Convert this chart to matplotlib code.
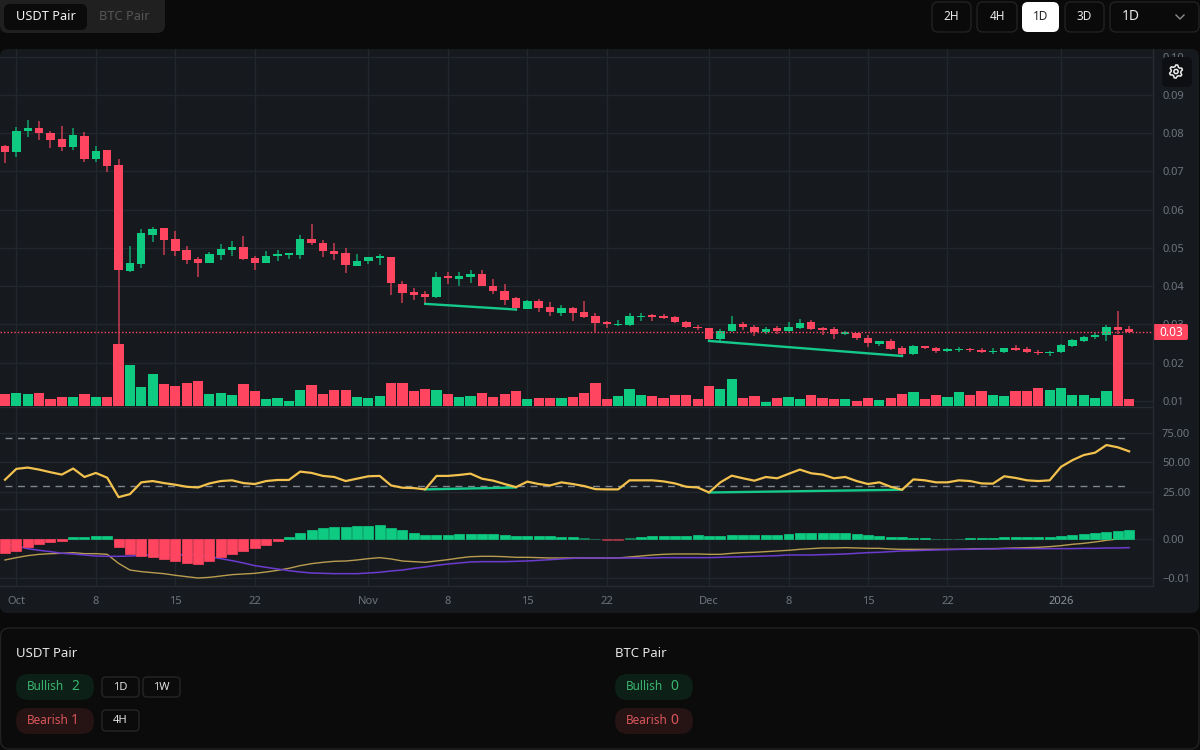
import numpy as np
import pandas as pd
import matplotlib
matplotlib.use("Agg")
import matplotlib.pyplot as plt
from matplotlib.patches import FancyBboxPatch, Circle, Polygon

plt.rcParams['font.family'] = ['Noto Sans', 'DejaVu Sans']

# Daily candles, 30 Sep 2025 to 7 Jan 2026
opens = [0.07671, 0.07516, 0.08052, 0.08138, 0.08017, 0.07844, 0.07628, 0.07939, 0.07317, 0.07559,
         0.07170, 0.04410, 0.04592, 0.05344, 0.05509, 0.05241, 0.04938, 0.04704, 0.04618, 0.04825,
         0.04955, 0.05016, 0.04730, 0.04618, 0.04782, 0.04825, 0.04825, 0.05241, 0.05137, 0.04921,
         0.04869, 0.04540, 0.04661, 0.04730, 0.04774, 0.04060, 0.03843, 0.03800, 0.03721, 0.04261,
         0.04191, 0.04243, 0.04313, 0.04008, 0.03887, 0.03695, 0.03408, 0.03626, 0.03451, 0.03312,
         0.03425, 0.03321, 0.03225, 0.03069, 0.02990, 0.02999, 0.03208, 0.03251, 0.03225, 0.03199,
         0.03077, 0.02929, 0.02903, 0.02625, 0.02834, 0.03008, 0.02929, 0.02799, 0.02903, 0.02834,
         0.02895, 0.03053, 0.02904, 0.02878, 0.02764, 0.02772, 0.02658, 0.02492, 0.02562, 0.02378,
         0.02220, 0.02430, 0.02387, 0.02316, 0.02325, 0.02369, 0.02334, 0.02281, 0.02273, 0.02387,
         0.02369, 0.02290, 0.02255, 0.02273, 0.02439, 0.02562, 0.02667, 0.02720, 0.02922, 0.02878]
closes = [0.07516, 0.08061, 0.08138, 0.08000, 0.07810, 0.07637, 0.07948, 0.07325, 0.07533, 0.07152,
          0.04419, 0.04609, 0.05379, 0.05483, 0.05197, 0.04929, 0.04687, 0.04618, 0.04843, 0.04964,
          0.05016, 0.04713, 0.04618, 0.04799, 0.04851, 0.04860, 0.05241, 0.05128, 0.04929, 0.04851,
          0.04566, 0.04652, 0.04756, 0.04782, 0.04073, 0.03826, 0.03782, 0.03730, 0.04235, 0.04208,
          0.04261, 0.04313, 0.04000, 0.03878, 0.03652, 0.03434, 0.03626, 0.03434, 0.03338, 0.03425,
          0.03312, 0.03208, 0.03051, 0.03025, 0.03008, 0.03225, 0.03234, 0.03208, 0.03164, 0.03069,
          0.02921, 0.02903, 0.02625, 0.02825, 0.03008, 0.02921, 0.02799, 0.02886, 0.02825, 0.02929,
          0.03036, 0.02886, 0.02860, 0.02746, 0.02799, 0.02641, 0.02509, 0.02562, 0.02352, 0.02220,
          0.02430, 0.02387, 0.02316, 0.02352, 0.02369, 0.02334, 0.02273, 0.02308, 0.02378, 0.02325,
          0.02273, 0.02246, 0.02290, 0.02457, 0.02588, 0.02685, 0.02737, 0.02930, 0.02860, 0.02816]
highs = [0.07697, 0.08156, 0.08346, 0.08311, 0.08061, 0.08190, 0.08138, 0.08026, 0.07654, 0.07559,
         0.07325, 0.05050, 0.05483, 0.05543, 0.05509, 0.05440, 0.05050, 0.04774, 0.04886, 0.05102,
         0.05171, 0.05310, 0.04799, 0.04912, 0.04947, 0.04877, 0.05336, 0.05613, 0.05215, 0.05128,
         0.04998, 0.04851, 0.04774, 0.04834, 0.04774, 0.04139, 0.03947, 0.03869, 0.04365, 0.04382,
         0.04365, 0.04417, 0.04435, 0.04191, 0.04060, 0.03713, 0.03643, 0.03669, 0.03582, 0.03504,
         0.03451, 0.03608, 0.03304, 0.03103, 0.03121, 0.03304, 0.03304, 0.03277, 0.03277, 0.03234,
         0.03103, 0.02990, 0.02912, 0.02886, 0.03217, 0.03069, 0.02990, 0.02938, 0.02964, 0.03069,
         0.03141, 0.03106, 0.02922, 0.02922, 0.02825, 0.02772, 0.02729, 0.02579, 0.02615, 0.02430,
         0.02457, 0.02439, 0.02413, 0.02387, 0.02413, 0.02387, 0.02378, 0.02387, 0.02387, 0.02457,
         0.02413, 0.02334, 0.02316, 0.02483, 0.02615, 0.02702, 0.02772, 0.02974, 0.03351, 0.02948]
lows = [0.07222, 0.07369, 0.07888, 0.07827, 0.07611, 0.07533, 0.07568, 0.07239, 0.07239, 0.06979,
        0.02464, 0.04384, 0.04488, 0.05163, 0.04825, 0.04799, 0.04583, 0.04246, 0.04618, 0.04678,
        0.04799, 0.04696, 0.04427, 0.04618, 0.04661, 0.04704, 0.04704, 0.05076, 0.04774, 0.04678,
        0.04341, 0.04540, 0.04583, 0.04557, 0.03761, 0.03573, 0.03634, 0.03539, 0.03704, 0.04060,
        0.03999, 0.04087, 0.04000, 0.03800, 0.03521, 0.03365, 0.03408, 0.03338, 0.03234, 0.03234,
        0.03086, 0.03164, 0.02799, 0.02912, 0.02956, 0.02964, 0.03095, 0.03095, 0.03147, 0.03051,
        0.02912, 0.02843, 0.02564, 0.02564, 0.02816, 0.02843, 0.02695, 0.02764, 0.02764, 0.02816,
        0.02878, 0.02860, 0.02720, 0.02632, 0.02720, 0.02597, 0.02413, 0.02430, 0.02334, 0.02150,
        0.02194, 0.02369, 0.02246, 0.02273, 0.02273, 0.02273, 0.02246, 0.02220, 0.02246, 0.02299,
        0.02246, 0.02211, 0.02167, 0.02246, 0.02413, 0.02536, 0.02632, 0.02571, 0.02746, 0.02790]
volumes = [36, 38, 36, 38, 20, 28, 28, 36, 28, 28, 186, 123, 56, 95, 65, 59, 70, 76, 37, 39,
           33, 67, 45, 20, 25, 14, 48, 62, 37, 48, 48, 28, 23, 31, 70, 70, 45, 51, 48, 37,
           28, 31, 39, 28, 36, 45, 20, 25, 25, 23, 28, 39, 70, 22, 31, 51, 34, 31, 25, 34,
           34, 22, 59, 51, 80, 25, 31, 11, 25, 28, 22, 34, 25, 22, 22, 16, 25, 19, 25, 36,
           42, 22, 34, 28, 42, 34, 45, 34, 30, 45, 45, 53, 48, 53, 34, 34, 25, 45, 213, 22]
rsi = [35.4, 44.5, 45.6, 43.9, 41.7, 39.7, 44.8, 37.7, 41.1, 37.1, 20.8, 23.3, 33.2, 34.3, 32.6, 31.2, 29.5, 28.9, 32.3, 34.3,
       34.9, 32.6, 31.8, 34.3, 35.2, 35.2, 42.2, 41.1, 38.6, 37.7, 34.3, 36.3, 38.3, 38.6, 30.6, 28.7, 28.4, 27.3, 38.6, 38.6,
       39.4, 40.5, 36.3, 34.6, 31.8, 29.2, 33.8, 31.8, 30.6, 33.2, 31.8, 30.1, 27.5, 27.3, 27.3, 34.9, 34.9, 34.9, 34.0, 32.3,
       29.5, 28.9, 24.7, 33.2, 38.8, 36.6, 34.6, 37.7, 36.6, 40.3, 43.9, 40.8, 39.7, 36.6, 37.7, 34.3, 31.8, 33.2, 29.5, 27.0,
       35.7, 34.9, 33.2, 33.2, 34.9, 34.3, 32.3, 32.1, 38.3, 36.9, 34.9, 34.3, 34.9, 46.2, 51.8, 56.1, 58.1, 64.5, 62.6, 59.2]
macd_hist = [-0.00359, -0.00291, -0.00205, -0.00128, -0.00077, -0.00034, 0.00051, 0.00051, 0.00077, 0.00077,
             -0.00197, -0.00368, -0.00428, -0.00453, -0.00513, -0.00556, -0.00607, -0.00633, -0.00564, -0.00462,
             -0.00368, -0.00291, -0.00222, -0.00145, -0.00051, 0.00068, 0.00162, 0.00239, 0.00291, 0.00316,
             0.00316, 0.00342, 0.00342, 0.00368, 0.00291, 0.00239, 0.00162, 0.00120, 0.00120, 0.00120,
             0.00145, 0.00145, 0.00145, 0.00145, 0.00120, 0.00094, 0.00094, 0.00094, 0.00077, 0.00051,
             0.00051, 0.00026, 0.00009, -0.00017, -0.00017, 0.00026, 0.00051, 0.00077, 0.00094, 0.00094,
             0.00094, 0.00120, 0.00094, 0.00094, 0.00120, 0.00120, 0.00120, 0.00120, 0.00120, 0.00145,
             0.00162, 0.00162, 0.00162, 0.00162, 0.00162, 0.00137, 0.00111, 0.00094, 0.00068, 0.00051,
             0.00034, 0.00034, 0.00017, 0.00017, 0.00017, 0.00034, 0.00034, 0.00034, 0.00051, 0.00051,
             0.00068, 0.00068, 0.00068, 0.00094, 0.00111, 0.00137, 0.00162, 0.00188, 0.00214, 0.00239]
macd_line = [-0.00530, -0.00470, -0.00419, -0.00385, -0.00368, -0.00359, -0.00342, -0.00368, -0.00368, -0.00385,
             -0.00616, -0.00787, -0.00829, -0.00855, -0.00881, -0.00923, -0.00958, -0.00992, -0.00975, -0.00941,
             -0.00906, -0.00889, -0.00872, -0.00838, -0.00795, -0.00744, -0.00675, -0.00624, -0.00590, -0.00564,
             -0.00556, -0.00530, -0.00496, -0.00470, -0.00504, -0.00556, -0.00573, -0.00590, -0.00556, -0.00522,
             -0.00479, -0.00445, -0.00436, -0.00436, -0.00445, -0.00462, -0.00462, -0.00470, -0.00479, -0.00479,
             -0.00479, -0.00479, -0.00479, -0.00479, -0.00479, -0.00453, -0.00428, -0.00402, -0.00385, -0.00376,
             -0.00376, -0.00376, -0.00385, -0.00385, -0.00359, -0.00342, -0.00333, -0.00316, -0.00299, -0.00282,
             -0.00257, -0.00239, -0.00222, -0.00222, -0.00214, -0.00222, -0.00231, -0.00231, -0.00248, -0.00257,
             -0.00257, -0.00257, -0.00257, -0.00257, -0.00257, -0.00248, -0.00239, -0.00239, -0.00231, -0.00222,
             -0.00214, -0.00205, -0.00188, -0.00162, -0.00128, -0.00103, -0.00068, -0.00026, 0.00009, 0.00026]
macd_signal = [-0.00120, -0.00171, -0.00239, -0.00282, -0.00316, -0.00359, -0.00376, -0.00402, -0.00428, -0.00436,
               -0.00436, -0.00428, -0.00410, -0.00402, -0.00402, -0.00402, -0.00393, -0.00393, -0.00445, -0.00496,
               -0.00547, -0.00607, -0.00675, -0.00718, -0.00761, -0.00804, -0.00838, -0.00864, -0.00872, -0.00881,
               -0.00881, -0.00881, -0.00864, -0.00846, -0.00812, -0.00787, -0.00744, -0.00710, -0.00667, -0.00633,
               -0.00607, -0.00581, -0.00573, -0.00573, -0.00573, -0.00564, -0.00556, -0.00539, -0.00522, -0.00504,
               -0.00487, -0.00479, -0.00479, -0.00479, -0.00479, -0.00479, -0.00479, -0.00479, -0.00470, -0.00470,
               -0.00470, -0.00470, -0.00470, -0.00462, -0.00453, -0.00445, -0.00436, -0.00428, -0.00419, -0.00402,
               -0.00402, -0.00402, -0.00393, -0.00385, -0.00376, -0.00359, -0.00342, -0.00333, -0.00316, -0.00299,
               -0.00291, -0.00282, -0.00274, -0.00265, -0.00257, -0.00257, -0.00248, -0.00248, -0.00239, -0.00239,
               -0.00239, -0.00239, -0.00239, -0.00239, -0.00239, -0.00231, -0.00231, -0.00222, -0.00222, -0.00214]

price_ticks = [0.01, 0.02, 0.03, 0.04, 0.05, 0.06, 0.07, 0.08, 0.09, 0.10]
rsi_ticks = [25, 50, 75]
macd_ticks = [-0.01, 0.0]
date_ticks = ["2025-10-01", "2025-10-08", "2025-10-15", "2025-10-22", "2025-11-01", "2025-11-08", "2025-11-15",
              "2025-11-22", "2025-12-01", "2025-12-08", "2025-12-15", "2025-12-22", "2026-01-01"]
date_labels = ["Oct", "8", "15", "22", "Nov", "8", "15", "22", "Dec", "8", "15", "22", "2026"]

# (start candle, start value, end candle, end value)
price_divergences = [(37, 0.03539, 45, 0.03391), (62, 0.02570, 79, 0.02176)]
rsi_divergences = [(37, 27.3, 45, 28.9), (62, 24.7, 79, 27.0)]

UP = "#0ecb81"
DOWN = "#ff4560"
GRID = "#22262d"
LABEL = "#6e747d"
W, H = 1200, 750
CHART_R = 1153


def pane(y_top, y_bottom, right=CHART_R):
    # axes placed by pixel rows of the 1200x750 figure
    ax = fig.add_axes([0, 1 - y_bottom / H, right / W, (y_bottom - y_top) / H])
    ax.patch.set_alpha(0)
    for s in ax.spines.values():
        s.set_visible(False)
    ax.set_xlim(-0.44, 101.1)
    ax.yaxis.tick_right()
    ax.tick_params(axis="y", length=0, pad=6.5, labelsize=8, labelcolor=LABEL)
    ax.tick_params(axis="x", length=0)
    ax.set_xticks(tick_pos)
    ax.set_xticklabels([])
    ax.grid(True, color=GRID, lw=1)
    ax.set_axisbelow(True)
    return ax


def box(ax, x0, y0, x1, y1, fc, ec="none", r=6, lw=1):
    ax.add_patch(FancyBboxPatch((x0 + r, y0 + r), x1 - x0 - 2 * r, y1 - y0 - 2 * r,
                                boxstyle=f"round,pad={r},rounding_size={r}", fc=fc, ec=ec, lw=lw))


dates = pd.date_range("2025-09-30", periods=len(opens))
x = np.arange(len(opens))
tick_pos = [dates.get_loc(pd.Timestamp(d)) for d in date_ticks]
opens, closes, highs, lows = map(np.array, (opens, closes, highs, lows))
up = closes >= opens
candle_colors = np.where(up, UP, DOWN)

fig = plt.figure(figsize=(12, 7.5), dpi=100, facecolor="#0a0a0a")

# page furniture, in pixel coordinates
ui = fig.add_axes([0, 0, 1, 1], zorder=0)
ui.set_xlim(0, W)
ui.set_ylim(H, 0)
ui.axis("off")
box(ui, 0, 49, 1199, 613, "#161a1f", r=8)
box(ui, 0, -12, 165, 33, "#202020", r=8)
box(ui, 4, 4, 87, 30, "#0b0b0b", r=6)
ui.text(46, 17, "USDT Pair", color="#f2f2f2", fontsize=9.2, ha="center", va="center")
ui.text(124.5, 17, "BTC Pair", color="#565656", fontsize=9.2, ha="center", va="center")
for (x0, x1, label) in [(932, 971, "2H"), (977, 1017, "4H"), (1065, 1104, "3D")]:
    box(ui, x0, 2, x1, 32, "#0a0a0a", "#222222", r=6)
    ui.text((x0 + x1) / 2, 16.5, label, color="#e8e8e8", fontsize=8.5, ha="center", va="center")
box(ui, 1022, 2, 1059, 32, "#ffffff", r=6)
ui.text(1040.5, 16.5, "1D", color="#222222", fontsize=8.5, ha="center", va="center")
box(ui, 1110, 2, 1199, 32, "#0a0a0a", "#222222", r=6)
ui.text(1122, 17, "1D", color="#e8e8e8", fontsize=10, ha="left", va="center")
ui.plot([1176, 1180, 1184], [15, 19, 15], color="#8a8a8a", lw=1)

box(ui, 0.5, 628, 1199, 749, "#0b0b0b", "#222222", r=9)
for x0, title, bull, bear in [(16, "USDT Pair", "2", "1"), (615, "BTC Pair", "0", "0")]:
    ui.text(x0, 653.5, title, color="#e6e6e6", fontsize=9.5, ha="left", va="center")
    box(ui, x0, 674, x0 + 78, 700, "#0c2017", r=13)
    box(ui, x0, 708, x0 + 78, 734, "#261414", r=13)
    ui.text(x0 + 11, 687, "Bullish", color="#3ab56f", fontsize=8.5, ha="left", va="center")
    ui.text(x0 + 55, 687, bull, color="#3ab56f", fontsize=10, ha="left", va="center")
    ui.text(x0 + 11, 721, "Bearish", color="#d9565a", fontsize=8.5, ha="left", va="center")
    ui.text(x0 + 55, 721, bear, color="#d9565a", fontsize=10, ha="left", va="center")
for x0, x1, y0, y1, label in [(102, 139, 677, 697, "1D"), (143, 180, 677, 697, "1W"), (102, 139, 710, 731, "4H")]:
    box(ui, x0, y0, x1, y1, "#0b0b0b", "#252525", r=4)
    ui.text((x0 + x1) / 2, (y0 + y1) / 2, label, color="#e0e0e0", fontsize=8, ha="center", va="center")

# price pane
ax_price = pane(49, 407)
ax_price.set_ylim(0.00843, 0.1020)
ax_price.set_yticks(price_ticks)
ax_price.set_yticklabels([f"{t:.2f}" for t in price_ticks])
ax_price.vlines(x, lows, highs, colors=candle_colors, lw=1.3, alpha=0.65, zorder=2)
ax_price.bar(x, np.maximum(np.abs(closes - opens), 0.00008), bottom=np.minimum(opens, closes),
             width=0.74, color=candle_colors, zorder=3)
for x0, v0, x1, v1 in price_divergences:
    ax_price.plot([x0, x1], [v0, v1], color="#14c98a", lw=1.7, zorder=4)
ax_price.axhline(closes[-1], color=DOWN, lw=1, ls=(0, (1, 1.5)), zorder=4)

# volume sits on the bottom of the price pane
ax_vol = fig.add_axes(ax_price.get_position(), zorder=1)
ax_vol.patch.set_alpha(0)
ax_vol.axis("off")
ax_vol.set_xlim(ax_price.get_xlim())
ax_vol.set_ylim(-3, 1071)
ax_vol.bar(x, volumes, width=0.9, color=candle_colors)

# RSI pane
ax_rsi = pane(407, 509)
ax_rsi.set_ylim(10.85, 96.4)
ax_rsi.set_yticks(rsi_ticks)
ax_rsi.set_yticklabels([f"{t:.2f}" for t in rsi_ticks])
for level in (70, 30):
    ax_rsi.plot([x[0], x[-1]], [level, level], color="#7f858d", lw=1, ls=(0, (5, 4)), zorder=2)
for x0, v0, x1, v1 in rsi_divergences:
    ax_rsi.plot([x0, x1], [v0, v1], color="#14c98a", lw=1.7, zorder=3)
ax_rsi.plot(x, rsi, color="#f2c14e", lw=1.6, zorder=4)

# MACD pane
ax_macd = pane(509, 586)
ax_macd.set_ylim(-0.01197, 0.00777)
ax_macd.set_yticks(macd_ticks)
ax_macd.set_yticklabels(["\u22120.01", "0.00"])
ax_macd.plot(x, macd_line, color="#b89c50", lw=1, zorder=2)
ax_macd.plot(x, macd_signal, color="#6c3bd0", lw=1.1, zorder=2)
hist = np.array(macd_hist)
hist_colors = np.where(hist >= 0, UP, DOWN)
bars = ax_macd.bar(x, hist, width=0.88, color=hist_colors, edgecolor=hist_colors, lw=0.5, zorder=3)
for b, v in zip(bars, hist):
    if abs(v) < 0.00030:
        b.set_alpha(0.55)
ax_macd.set_xticklabels(date_labels, fontsize=8, color=LABEL)
ax_macd.tick_params(axis="x", pad=7)
ax_macd.get_xticklabels()[-1].set_fontweight("bold")
ax_macd.get_xticklabels()[-1].set_color("#8d929a")

# pane separators and the overlay widgets
top = fig.add_axes([0, 0, 1, 1], zorder=5)
top.set_xlim(0, W)
top.set_ylim(H, 0)
top.axis("off")
top.patch.set_alpha(0)
for y in (407, 509, 586):
    top.plot([0, CHART_R], [y, y], color="#262a31", lw=1)
top.plot([1153, 1153], [49, 586], color="#262a31", lw=1)
box(top, 1162, 57, 1192, 87, "#0d0f12", r=5)
# settings cog icon
gear_a = np.deg2rad(np.arange(0, 360, 15) + 30)
gear_r = np.tile([6.6, 6.6, 4.9, 4.9], 6)
top.add_patch(Polygon(np.c_[1176 + gear_r * np.cos(gear_a), 71.5 + gear_r * np.sin(gear_a)],
                      closed=True, fc="none", ec="#f0f0f0", lw=1.1))
top.add_patch(Circle((1176, 71.5), 2.1, fc="none", ec="#f0f0f0", lw=1.1))
box(top, 1153, 324, 1188, 340, DOWN, r=2)
top.text(1171, 332, f"{closes[-1]:.2f}", color="#ffffff", fontsize=8.5, ha="center", va="center")

fig.savefig("out.png", dpi=100, facecolor=fig.get_facecolor())
